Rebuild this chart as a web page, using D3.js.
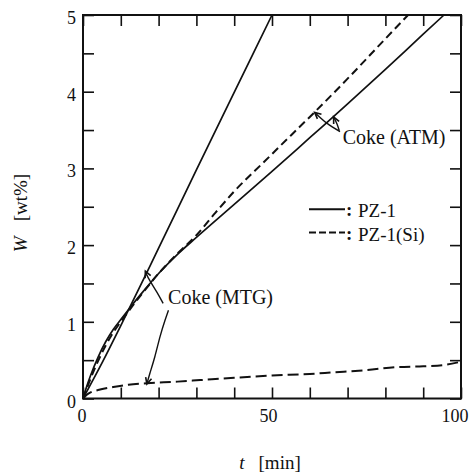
<!DOCTYPE html>
<html>
<head>
<meta charset="utf-8">
<script src="https://cdn.jsdelivr.net/npm/d3@7"></script>
<style>
  html, body { margin: 0; padding: 0; background: #fff; }
  svg { display: block; }
  text { font-family: "Liberation Serif", "DejaVu Serif", serif; fill: #111; }
</style>
</head>
<body>
<svg id="chart" width="471" height="472"></svg>
<script>
// Coke deposition W [wt%] against time on stream t [min]
// PZ-1 (solid) and PZ-1(Si) (dashed), for the ATM and MTG reactions.
const pz1ATM = [[0,0],[1,0.16],[2,0.3],[4,0.54],[6,0.74],[8,0.9],[10,1.03],[13,1.22],[16,1.4],
  [20,1.63],[25,1.88],[30,2.1],[40,2.53],[50,2.96],[60,3.4],[70,3.84],[80,4.29],[90,4.75],[95.5,5.0]];
const pz1SiATM = [[0,0],[1,0.13],[2,0.26],[4,0.49],[6,0.69],[8,0.86],[10,1.0],[13,1.2],[16,1.39],
  [20,1.63],[25,1.89],[30,2.13],[35,2.42],[40,2.7],[48,3.09],[55,3.43],[61,3.72],[70,4.17],[80,4.69],[86,5.0]];
const pz1MTG = [[0,0],[5,0.46],[10,0.95],[20,1.96],[30,2.98],[40,3.99],[50,5.0]];
const pz1SiMTG = [[0,0],[1,0.05],[2,0.08],[4,0.11],[8,0.15],[12,0.18],[17,0.2],[25,0.22],[31,0.24],
  [40,0.27],[50,0.3],[60,0.32],[66,0.34],[75,0.37],[83,0.41],[90,0.42],[96,0.44],[100,0.48]];

const xTicks = d3.range(0, 101, 10);
const yTicks = d3.range(0, 5.01, 0.5);
const xTickLabels = [0, 50, 100];
const yTickLabels = [0, 1, 2, 3, 4, 5];
const legendLabels = ["PZ-1", "PZ-1(Si)"];

const svg = d3.select("#chart");
const plotL = 83, plotR = 461, plotT = 15, plotB = 398.5;
const x = d3.scaleLinear().domain([0, 100]).range([plotL, plotR]);
const y = d3.scaleLinear().domain([0, 5]).range([plotB, plotT]);
const tickLen = 11;

// Inward ticks on all four sides
function styleAxis(g) {
  g.select(".domain").remove();
  g.selectAll(".tick line").attr("stroke", "#111").attr("stroke-width", 1.6);
  g.selectAll(".tick text").remove();
}
svg.append("g").attr("transform", `translate(0,${plotB})`)
  .call(d3.axisBottom(x).tickValues(xTicks).tickSize(-tickLen)).call(styleAxis);
svg.append("g").attr("transform", `translate(0,${plotT})`)
  .call(d3.axisTop(x).tickValues(xTicks).tickSize(-tickLen)).call(styleAxis);
svg.append("g").attr("transform", `translate(${plotL},0)`)
  .call(d3.axisLeft(y).tickValues(yTicks).tickSize(-tickLen)).call(styleAxis);
svg.append("g").attr("transform", `translate(${plotR},0)`)
  .call(d3.axisRight(y).tickValues(yTicks).tickSize(-tickLen)).call(styleAxis);

svg.append("rect")
  .attr("x", plotL).attr("y", plotT)
  .attr("width", plotR - plotL).attr("height", plotB - plotT)
  .attr("fill", "none").attr("stroke", "#111").attr("stroke-width", 2);

// Tick labels
svg.append("g").selectAll("text").data(xTickLabels).join("text")
  .attr("x", d => x(d) - 1 - 0.05 * d)
  .attr("y", plotB + 23)
  .attr("text-anchor", "middle")
  .attr("font-size", 18)
  .text(d => d);
svg.append("g").selectAll("text").data(yTickLabels).join("text")
  .attr("x", plotL - 7)
  .attr("y", d => y(d) + 9)
  .attr("text-anchor", "end")
  .attr("font-size", 18)
  .text(d => d);

// Axis titles
const yTitle = svg.append("text")
  .attr("transform", "translate(27,213) rotate(-90)")
  .attr("text-anchor", "middle")
  .attr("font-size", 19);
yTitle.append("tspan").attr("font-style", "italic").text("W");
yTitle.append("tspan").attr("dx", 15).text("[wt%]");

const xTitle = svg.append("text")
  .attr("x", 270).attr("y", 469)
  .attr("text-anchor", "middle")
  .attr("font-size", 19);
xTitle.append("tspan").attr("font-style", "italic").text("t");
xTitle.append("tspan").attr("dx", 14).text("[min]");

// Curves
const line = d3.line().x(d => x(d[0])).y(d => y(d[1])).curve(d3.curveMonotoneX);
const series = [
  { data: pz1ATM, dash: null, w: 1.7 },
  { data: pz1SiATM, dash: "8,4.5", w: 2 },
  { data: pz1MTG, dash: null, w: 1.7 },
  { data: pz1SiMTG, dash: "11,5", w: 2 }
];
svg.append("g").selectAll("path").data(series).join("path")
  .attr("d", d => line(d.data))
  .attr("fill", "none")
  .attr("stroke", "#111")
  .attr("stroke-width", d => d.w)
  .attr("stroke-dasharray", d => d.dash);

// Annotation leaders with arrowheads at the curve end
const leader = d3.line().x(d => x(d[0])).y(d => y(d[1])).curve(d3.curveNatural);
const annotations = [
  { text: "Coke (ATM)", at: [68.7, 3.32],
    leaders: [ [[68.0,3.48],[64.5,3.59],[61.3,3.73]], [[67.8,3.49],[67.2,3.58],[66.3,3.67]] ] },
  { text: "Coke (MTG)", at: [22.5, 1.232],
    leaders: [ [[21.2,1.24],[19.5,1.39],[17.3,1.57],[16.5,1.66]],
               [[22.6,1.15],[21.7,1.02],[20.4,0.81],[19.0,0.545],[17.7,0.33],[16.9,0.19]] ] }
];
const ann = svg.append("g");
annotations.forEach(a => {
  ann.append("text")
    .attr("x", x(a.at[0])).attr("y", y(a.at[1]))
    .attr("font-size", 20)
    .text(a.text);
  a.leaders.forEach(pts => {
    ann.append("path").attr("d", leader(pts))
      .attr("fill", "none").attr("stroke", "#111").attr("stroke-width", 1.4);
    const p1 = pts[pts.length - 1], p0 = pts[pts.length - 2];
    const tx = x(p1[0]), ty = y(p1[1]);
    const ang = Math.atan2(ty - y(p0[1]), tx - x(p0[0]));
    const len = 7, spread = 0.45;
    const head = [ang + Math.PI - spread, ang + Math.PI + spread]
      .map(b => [tx + len * Math.cos(b), ty + len * Math.sin(b)]);
    ann.append("path")
      .attr("d", `M${head[0][0]},${head[0][1]}L${tx},${ty}L${head[1][0]},${head[1][1]}`)
      .attr("fill", "none").attr("stroke", "#111").attr("stroke-width", 1.6);
  });
});

// Legend
const legend = svg.append("g");
const legendRows = [
  { label: legendLabels[0], dash: null, base: 217.3 },
  { label: legendLabels[1], dash: "7,3", base: 240.5 }
];
legendRows.forEach(r => {
  legend.append("line")
    .attr("x1", 309).attr("x2", 345)
    .attr("y1", r.base - 8).attr("y2", r.base - 8)
    .attr("stroke", "#111").attr("stroke-width", 2)
    .attr("stroke-dasharray", r.dash);
  legend.append("text").attr("x", 346).attr("y", r.base - 1)
    .attr("font-size", 19).attr("font-weight", "bold").text(":");
  legend.append("text").attr("x", 358).attr("y", r.base)
    .attr("font-size", 19).text(r.label);
});
</script>
</body>
</html>
